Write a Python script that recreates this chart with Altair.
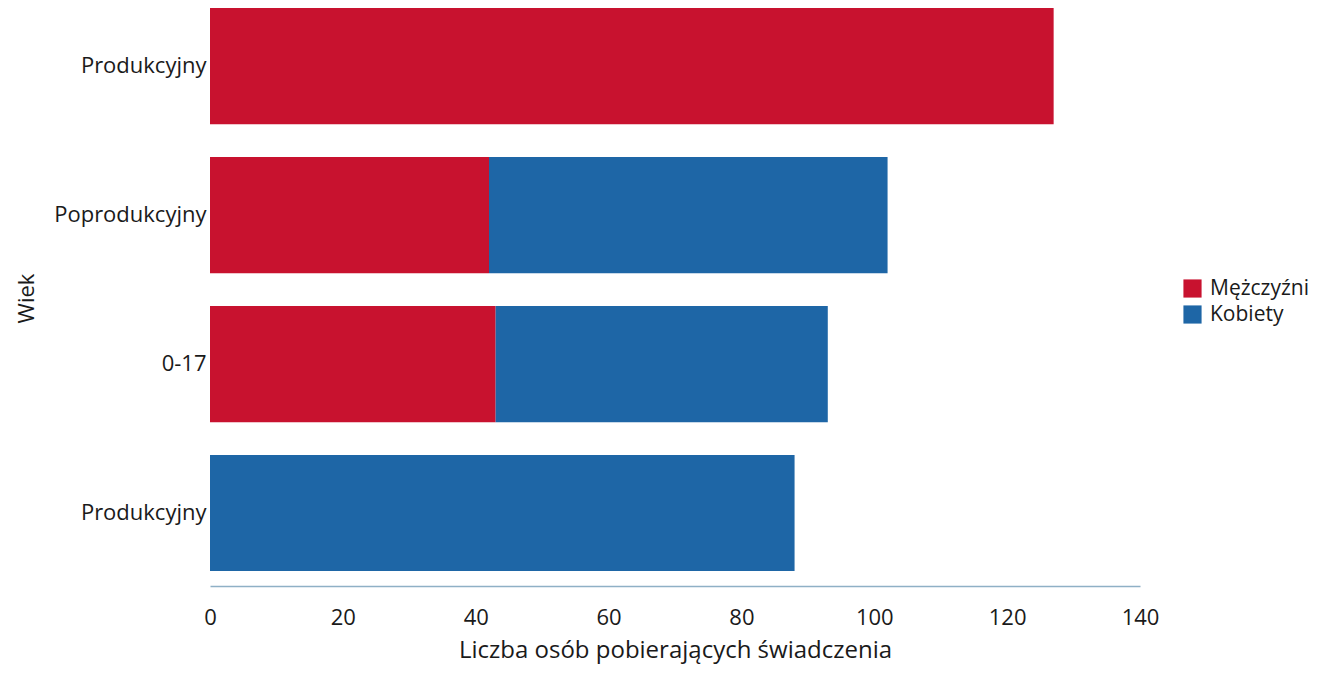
import altair as alt
import pandas as pd

groups = ["Produkcyjny_M", "Poprodukcyjny", "0-17", "Produkcyjny_K"]
men = [127, 42, 43, 0]
women = [0, 60, 50, 88]
series = ["Mężczyźni", "Kobiety"]
colors = ["#c8122f", "#1e66a6"]
x_ticks = [0, 20, 40, 60, 80, 100, 120, 140]

rows = []
for g, m, w in zip(groups, men, women):
    rows.append({"Wiek": g, "Płeć": series[0], "Wartość": m, "ord": 0})
    rows.append({"Wiek": g, "Płeć": series[1], "Wartość": w, "ord": 1})
df = pd.DataFrame(rows)

FONT = "Open Sans"

chart = alt.Chart(df).mark_bar().encode(
    y=alt.Y("Wiek:N", sort=groups,
            scale=alt.Scale(paddingInner=0.22, paddingOuter=0.05, align=0),
            axis=alt.Axis(title="Wiek", labelExpr="split(datum.label, '_')[0]",
                          domain=False, ticks=False, labelFontSize=22,
                          labelColor="#1a1a1a", labelPadding=4,
                          titleFontSize=22, titleFontWeight="normal",
                          titleColor="#1a1a1a", titleX=-172, titleY=290,
                          labelFont=FONT, titleFont=FONT)),
    x=alt.X("Wartość:Q", stack="zero",
            scale=alt.Scale(domain=[0, 140], nice=False),
            axis=alt.Axis(title="Liczba osób pobierających świadczenia",
                          values=x_ticks, grid=False, ticks=False,
                          labelFlush=False,
                          domainColor="#8fb0c6", domainWidth=1.5,
                          labelFontSize=22, labelColor="#1a1a1a", labelPadding=21,
                          titleFontSize=24, titleFontWeight="normal",
                          titleColor="#1a1a1a", titlePadding=10,
                          labelFont=FONT, titleFont=FONT)),
    color=alt.Color("Płeć:N", sort=series,
                    scale=alt.Scale(domain=series, range=colors),
                    legend=alt.Legend(title=None, orient="none",
                                      legendX=972, legendY=270,
                                      symbolType="square", symbolSize=330,
                                      symbolStrokeWidth=0,
                                      labelFontSize=21, labelColor="#1a1a1a",
                                      labelFont=FONT, rowPadding=4,
                                      labelOffset=7, labelLimit=200)),
    order=alt.Order("ord:Q"),
).properties(
    width=930, height=578,
    autosize="none",
    padding={"left": 202, "top": 0, "right": 174, "bottom": 80},
).configure_view(stroke=None)

chart.save("out.html", embed_options={"renderer": "svg", "actions": False})
